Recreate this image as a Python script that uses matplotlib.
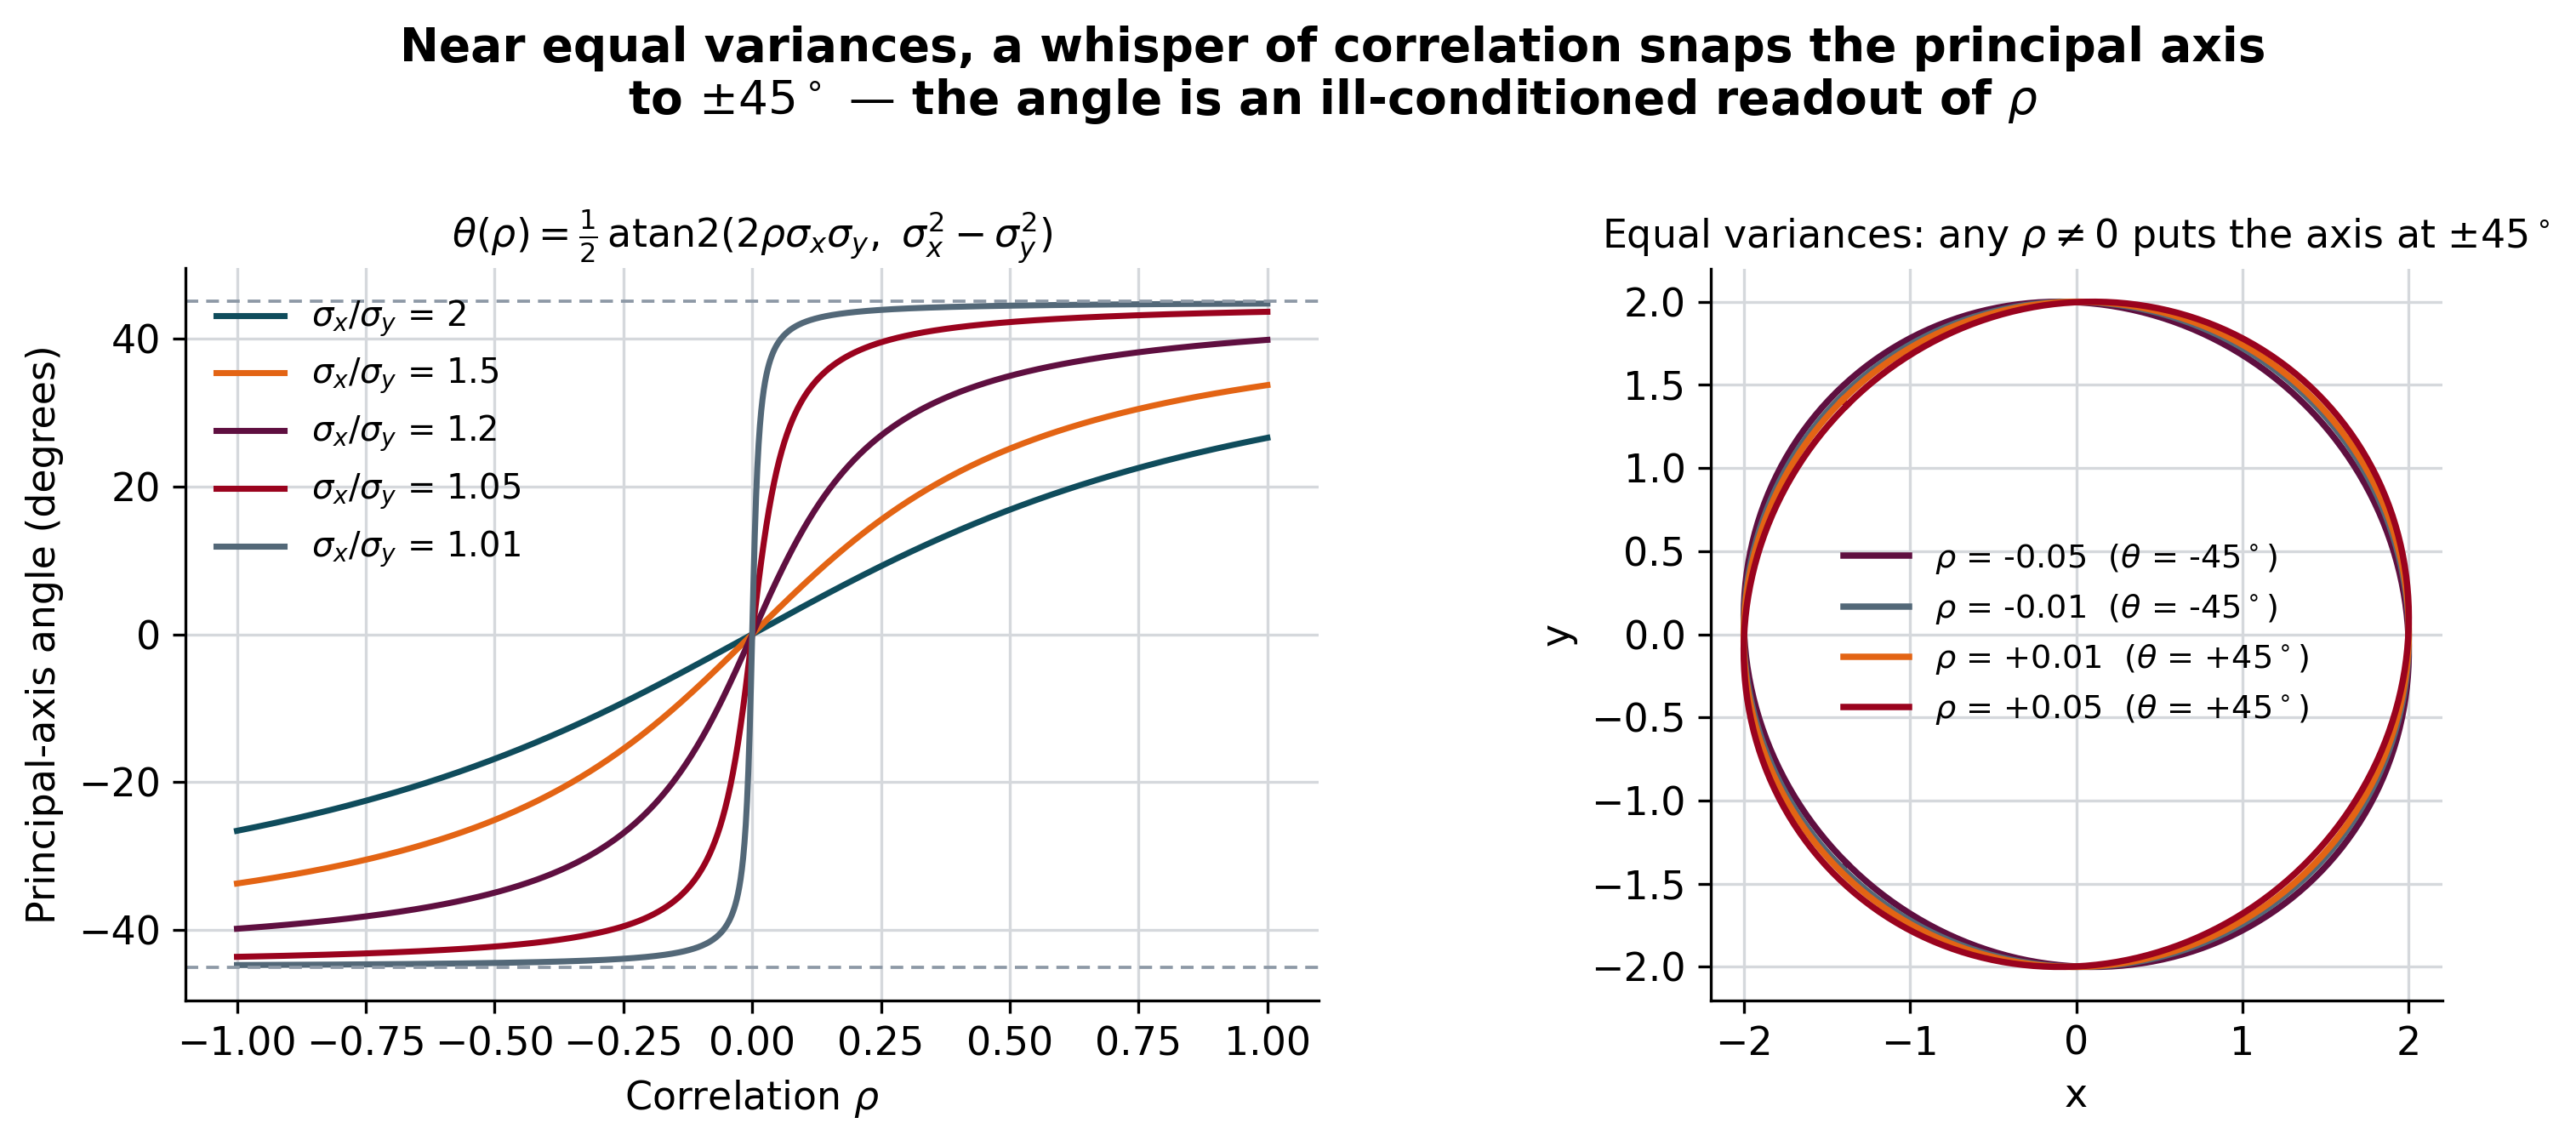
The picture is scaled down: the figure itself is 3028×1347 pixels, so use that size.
import numpy as np
import matplotlib
matplotlib.use("Agg")
import matplotlib.pyplot as plt

# ---- data ----
ratios = [2, 1.5, 1.2, 1.05, 1.01]
ratio_labels = ["2", "1.5", "1.2", "1.05", "1.01"]
ratio_colors = ["#0f4c5c", "#e36414", "#5f0f40", "#9a031e", "#536878"]

rhos_eq = [-0.05, -0.01, 0.01, 0.05]
rho_labels = ["-0.05", "-0.01", "+0.01", "+0.05"]
theta_labels = ["-45", "-45", "+45", "+45"]
rho_colors = ["#5f0f40", "#536878", "#e36414", "#9a031e"]

rho_grid = np.linspace(-1, 1, 801)
t_grid = np.linspace(0, 2 * np.pi, 400)
radius = 2.0

grid_color = "#d5d8dc"

fig = plt.figure(figsize=(3028 / 300, 1347 / 300), dpi=300)
ax1 = fig.add_axes([0.072, 0.127, 0.440, 0.639])
ax2 = fig.add_axes([0.664, 0.127, 0.284, 0.639])

# ---- left panel ----
for r, lab, c in zip(ratios, ratio_labels, ratio_colors):
    sx, sy = r, 1.0
    th = 0.5 * np.degrees(np.arctan2(2 * rho_grid * sx * sy, sx ** 2 - sy ** 2))
    ax1.plot(rho_grid, th, color=c, lw=1.7, label=r"$\sigma_x/\sigma_y$ = " + lab)
for yv in (45, -45):
    ax1.axhline(yv, color="#8d99a6", lw=0.9, ls=(0, (4, 2.5)))
ax1.set_xlim(-1.1, 1.1)
ax1.set_ylim(-49.5, 49.5)
ax1.set_xticks(np.arange(-1, 1.01, 0.25))
ax1.set_yticks([-40, -20, 0, 20, 40])
ax1.grid(True, color=grid_color, lw=0.8)
ax1.set_axisbelow(True)
ax1.set_xlabel(r"Correlation $\rho$", fontsize=11)
ax1.set_ylabel("Principal-axis angle (degrees)", fontsize=11)
ax1.set_title(r"$\theta(\rho) = \frac{1}{2}\,\mathrm{atan2}(2\rho\sigma_x\sigma_y,\ \sigma_x^2 - \sigma_y^2)$",
              fontsize=11)
ax1.legend(loc="upper left", frameon=False, fontsize=9.6, labelspacing=0.5,
           handlelength=2.0, borderaxespad=0.5)

# ---- right panel ----
for rho, rl, tl, c in zip(rhos_eq, rho_labels, theta_labels, rho_colors):
    cov = np.array([[1.0, rho], [rho, 1.0]])
    w, v = np.linalg.eigh(cov)
    pts = v @ np.diag(np.sqrt(w)) @ np.vstack([np.cos(t_grid), np.sin(t_grid)]) * radius
    ax2.plot(pts[0], pts[1], color=c, lw=1.8,
             label=r"$\rho$ = " + rl + r"  ($\theta$ = " + tl + r"$^\circ$)")
ax2.set_xlim(-2.2, 2.2)
ax2.set_ylim(-2.2, 2.2)
ax2.set_aspect("equal")
ax2.set_xticks([-2, -1, 0, 1, 2])
ax2.set_yticks(np.arange(-2, 2.01, 0.5))
ax2.grid(True, color=grid_color, lw=0.8)
ax2.set_axisbelow(True)
ax2.set_xlabel("x", fontsize=11)
ax2.set_ylabel("y", fontsize=11)
ax2.set_title(r"Equal variances: any $\rho \neq 0$ puts the axis at $\pm 45^\circ$", fontsize=11)
ax2.legend(loc="center", frameon=False, fontsize=9.2, labelspacing=0.5, handlelength=2.0)

for ax in (ax1, ax2):
    ax.spines["top"].set_visible(False)
    ax.spines["right"].set_visible(False)
    ax.tick_params(labelsize=11)

fig.suptitle("Near equal variances, a whisper of correlation snaps the principal axis\n"
             r"to $\pm45^\circ$ — the angle is an ill-conditioned readout of $\rho$",
             fontsize=13.2, fontweight="bold", x=0.5175, y=0.978, linespacing=1.15)

fig.savefig("out.png", dpi=300)
